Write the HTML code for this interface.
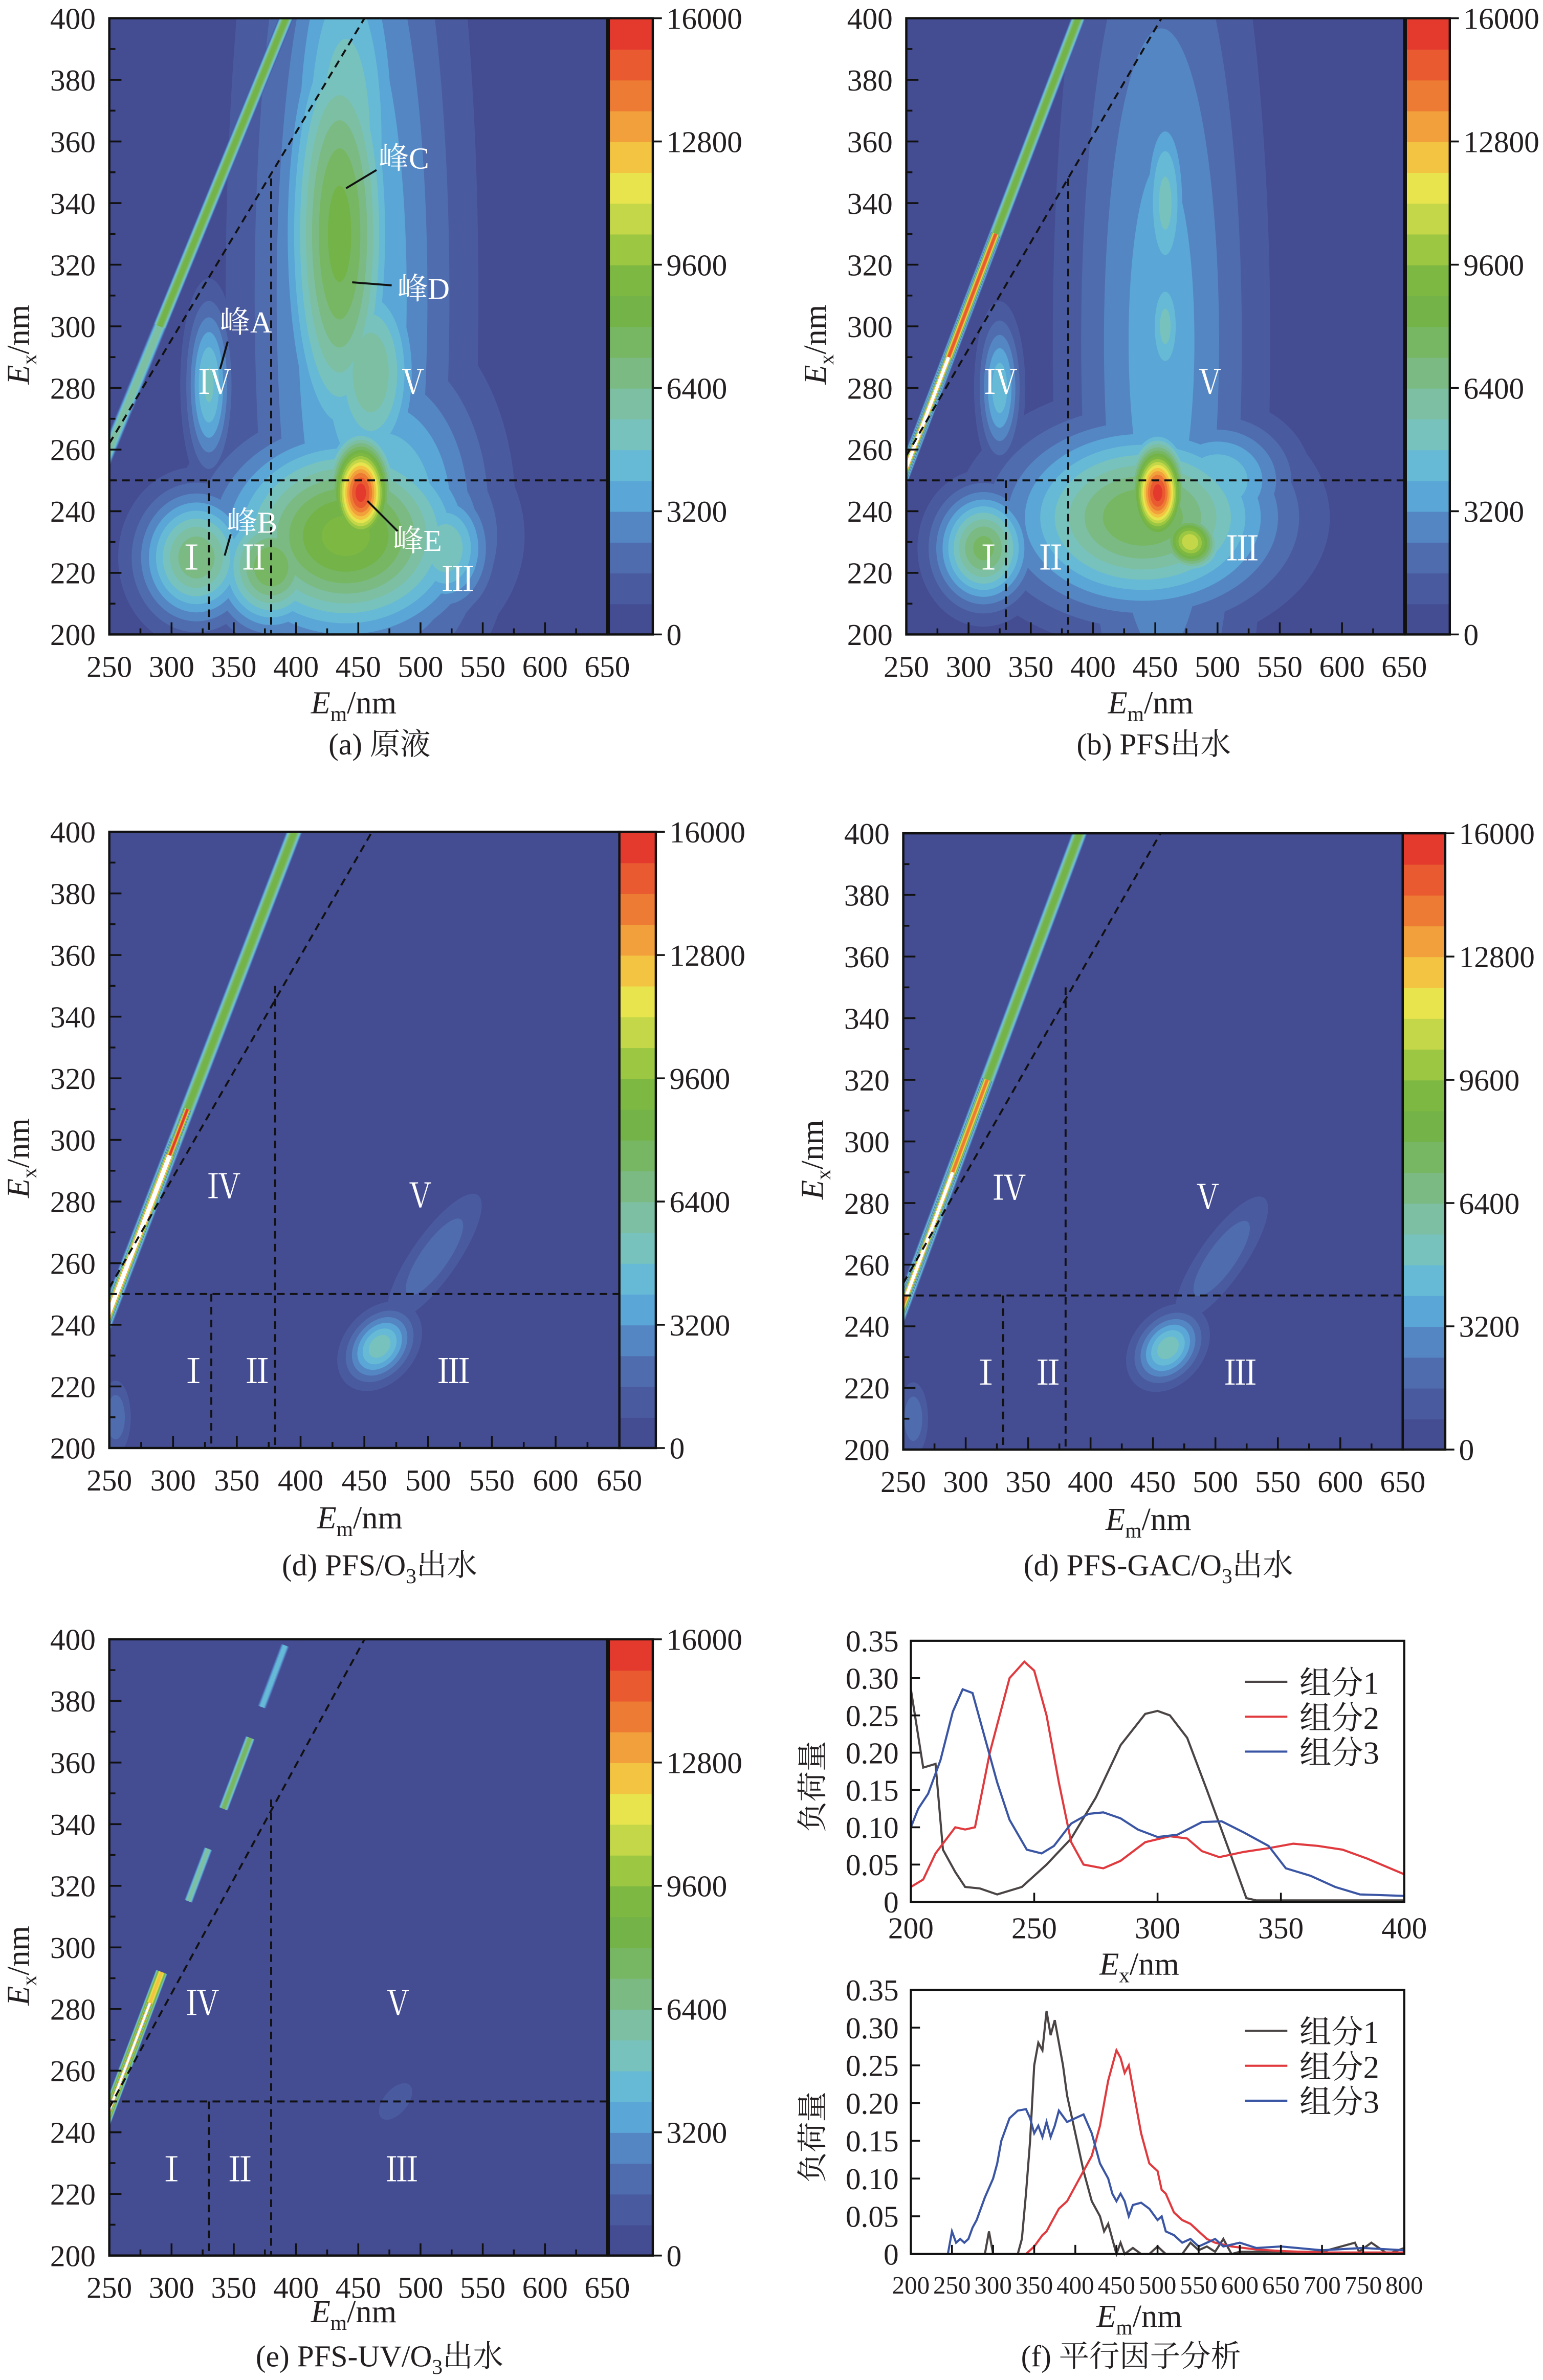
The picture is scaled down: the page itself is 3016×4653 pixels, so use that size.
<!DOCTYPE html>
<html><head><meta charset="utf-8">
<style>
html,body{margin:0;padding:0;background:#fff;}
svg{display:block;}
text{font-family:"Liberation Serif","Noto Serif CJK SC","Noto Sans CJK SC",serif;}
</style></head>
<body>
<svg id="fig" xmlns="http://www.w3.org/2000/svg" width="3016" height="4653" viewBox="0 0 1016.4 1568" preserveAspectRatio="none">
</svg>
<script>
// ---------- data ----------
const colorLevels=['#444c92','#4a5a9f','#4f6cae','#5586c4','#5aa6d6','#66bad5','#78c2bd','#7cbfa3','#7bba82','#77b763','#73b348','#7cb842','#9cc743','#c3d748','#e8e44d','#f3c442','#f1a03b','#ed7b34','#e95a30','#e43a2e','#ffffff'];
const cbTicks=[0,3200,6400,9600,12800,16000];
const emTicks=[250,300,350,400,450,500,550,600,650];
const exTicks=[200,220,240,260,280,300,320,340,360,380,400];
// peaks: [em, ex, sigmaEm(nm), sigmaEx(nm), level(0-20), angle(deg)]
const peaksA=[[445,310,55,120,5.5,0],[470,240,55,35,6.5,0],[440,360,35,60,7,0],[435,330,30,50,10.5,0],[460,285,28,25,8,0],[440,232,65,22,11.5,0],[452,246,17,12,19.6,0],[330,281,12,18,6.3,0],[320,225,30,14,9,0],[380,222,30,14,10,0],[520,228,25,14,7,0]];
const peaksB=[[455,295,50,110,4.6,0],[458,340,14,24,6.4,0],[458,300,12,16,6.4,0],[440,238,70,20,10,0],[452,246,15,11,19.6,0],[478,230,16,7,14,-55],[325,280,11,15,5.8,0],[312,228,25,12,9.5,0],[500,250,40,14,6,0]];
const peaksD=[[462,233,20,6,6.8,-50],[505,262,40,5,3,-55],[255,210,8,8,3,0]];
const peaksD2=[[462,233,20,6,6.8,-50],[505,262,40,5,3,-55],[258,210,8,8,3,0]];
const peaksE=[[480,250,18,4,1.6,-50]];
// Rayleigh scatter band: line endpoints [em0,ex0,em1,ex1]; segments [exStart,exEnd,level,widthNm]
const bandLineA=[252,262,394,402], bandSegA=[[255,300,7.5,11],[300,405,10,11]];
const bandLineB=[248,252,390,402], bandSegB=[[240,405,10,11],[250,330,18,8],[250,290,21,6]];
const bandLineD=[248,242,397,402], bandSegD=[[235,405,10,12],[240,300,21,8],[295,310,19,6]];
const bandLineD2=[248,245,393,402], bandSegD2=[[235,405,10,12],[245,320,17,8],[250,290,21,6]];
const bandLineE=[248,245,395,402], bandSegE=[[240,292,15,10],[245,282,21,4],[315,332,7,7],[345,368,9,8],[378,398,5,7]];
// f chart data
const exAxis=[200,205,210,213,218,222,228,235,245,255,265,275,285,295,300,305,312,320,330,336,340,350,400];
const exC1=[0.285,0.18,0.185,0.07,0.04,0.02,0.018,0.01,0.02,0.05,0.085,0.14,0.21,0.252,0.256,0.25,0.22,0.15,0.06,0.005,0.002,0.002,0.002];
const exAxis2=[200,205,210,218,222,226,232,240,246,250,255,260,265,270,278,285,295,305,312,318,325,335,345,355,365,375,385,400];
const exC2=[0.02,0.03,0.065,0.1,0.097,0.1,0.2,0.3,0.322,0.31,0.25,0.16,0.08,0.05,0.045,0.055,0.08,0.088,0.085,0.068,0.06,0.067,0.072,0.078,0.075,0.07,0.058,0.037];
const exAxis3=[200,203,207,212,217,221,225,230,235,240,247,253,258,265,272,278,285,292,300,308,318,326,335,345,352,362,372,382,400];
const exC3=[0.1,0.125,0.145,0.19,0.255,0.285,0.28,0.22,0.16,0.11,0.07,0.065,0.075,0.105,0.118,0.12,0.112,0.097,0.087,0.09,0.107,0.108,0.093,0.075,0.045,0.035,0.02,0.01,0.008];
const emAxis1=[200,290,295,300,305,330,335,340,345,350,355,360,365,370,375,380,385,390,400,410,420,430,435,440,445,450,455,460,470,480,490,500,510,520,530,540,550,560,570,580,590,600,650,700,740,745,760,780,800];
const emC1=[0,0,0.03,0,0,0,0.02,0.08,0.15,0.25,0.28,0.27,0.322,0.29,0.31,0.28,0.25,0.21,0.16,0.11,0.07,0.05,0.03,0.04,0.02,0,0.015,0,0.008,0,0,0.01,0,0,0,0.015,0.005,0.01,0.003,0.02,0,0.003,0.003,0.003,0.015,0.003,0.015,0,0.008];
const emAxis2=[200,340,350,360,365,370,380,390,400,410,420,430,440,445,450,455,460,465,470,480,490,500,505,510,520,530,540,550,560,570,590,620,650,700,800];
const emC2=[0,0,0.01,0.025,0.03,0.04,0.06,0.07,0.09,0.11,0.13,0.17,0.23,0.25,0.27,0.26,0.24,0.25,0.22,0.16,0.12,0.11,0.085,0.08,0.055,0.045,0.04,0.03,0.02,0.015,0.01,0.006,0.004,0.002,0.002];
const emAxis3=[200,245,250,255,260,265,270,275,280,290,300,305,310,315,320,330,340,345,350,355,360,365,370,375,380,390,400,410,420,425,430,440,445,450,455,460,465,470,480,490,500,505,510,520,530,540,550,560,570,580,600,620,650,700,750,800];
const emC3=[0,0,0.03,0.015,0.02,0.015,0.02,0.035,0.045,0.075,0.1,0.12,0.15,0.165,0.18,0.19,0.192,0.18,0.16,0.17,0.155,0.175,0.155,0.17,0.19,0.175,0.18,0.185,0.16,0.14,0.12,0.1,0.08,0.07,0.08,0.07,0.05,0.065,0.068,0.06,0.045,0.05,0.03,0.025,0.015,0.02,0.01,0.015,0.02,0.01,0.015,0.008,0.01,0.005,0.008,0.005];
const fYTicks=[0,0.05,0.10,0.15,0.20,0.25,0.30,0.35];
const fYLabels=['0','0.05','0.10','0.15','0.20','0.25','0.30','0.35'];
const fExTicks=[200,250,300,350,400];
const fEmTicks=[200,250,300,350,400,450,500,550,600,650,700,750,800];
const legendNames=['组分1','组分2','组分3'];
const seriesColors=['#4a4444','#e03a3e','#3a55a4'];

// ---------- helpers ----------
const NS='http://www.w3.org/2000/svg';
const svg=document.getElementById('fig');
function mk(tag,attrs,parent){const e=document.createElementNS(NS,tag);for(const k in attrs)e.setAttribute(k,attrs[k]);(parent||svg).appendChild(e);return e;}
function txt(x,y,s,size,anchor,parent,fill){const t=mk('text',{x:x,y:y,'font-size':size,'text-anchor':anchor||'middle',fill:fill||'#231f20'},parent);t.textContent=s;return t;}

function eemPanel(id,P,peaks,bandLine,bandSeg,opts){
  const g=mk('g',{});
  
  
  const X=em=>P.x0+(em-250)/400*(P.x1-P.x0);
  const Y=ex=>P.y1-(ex-200)/200*(P.y1-P.y0);
  const kx=(P.x1-P.x0)/400, ky=(P.y1-P.y0)/200;
  const cp=mk('clipPath',{id:'clip-'+id},g);
  mk('rect',{x:P.x0,y:P.y0,width:P.x1-P.x0,height:P.y1-P.y0},cp);
  const area=mk('g',{'clip-path':'url(#clip-'+id+')'},g);
  const bg=mk('rect',{x:P.x0,y:P.y0,width:P.x1-P.x0,height:P.y1-P.y0,fill:colorLevels[0]},area);
  
  
  for(let k=1;k<=20;k++){
    peaks.forEach(p=>{
      if(p[4]>k){
        const f=Math.sqrt(2*Math.log(p[4]/k));
        const e=mk('ellipse',{cx:X(p[0]),cy:Y(p[1]),rx:p[2]*kx*f,ry:p[3]*ky*f,fill:colorLevels[Math.min(k,19)],transform:'rotate('+p[5]+' '+X(p[0])+' '+Y(p[1])+')'},area);
        
        
      }
    });
  }
  const exToEm=ex=>bandLine[0]+(ex-bandLine[1])*(bandLine[2]-bandLine[0])/(bandLine[3]-bandLine[1]);
  bandSeg.forEach(s=>{
    const L=s[2];
    for(let k=1;k<=Math.min(20,Math.ceil(L));k++){
      if(L<=k-0.01&&k>1)break;
      const w=Math.max(0.6,s[3]*kx*Math.sqrt(Math.max(0,1-(k-1)/L)));
      const ln=mk('line',{x1:X(exToEm(s[0])),y1:Y(s[0]),x2:X(exToEm(s[1])),y2:Y(s[1]),stroke:colorLevels[Math.min(k,19)],'stroke-width':w,'stroke-linecap':'butt'},area);
      
      
    }
    if(L>20){const ln=mk('line',{x1:X(exToEm(s[0])),y1:Y(s[0]),x2:X(exToEm(s[1])),y2:Y(s[1]),stroke:'#fff','stroke-width':s[3]*kx*0.45},area);
      
      }
  });
  const dl=opts.diag;
  const dash={stroke:'#111','stroke-width':1.3,'stroke-dasharray':'5,3.5',fill:'none'};
  const lines=[[X(dl[0]),Y(dl[1]),X(dl[2]),Y(dl[3])],[P.x0,Y(250),P.x1,Y(250)],[X(330),Y(250),X(330),P.y1],[X(380),Y(opts.vTop),X(380),P.y1]];
  lines.forEach(l=>{const e=mk('line',Object.assign({x1:l[0],y1:l[1],x2:l[2],y2:l[3]},dash),area);
    
    });
  const rn=[['Ⅰ',opts.rI],['Ⅱ',opts.rII],['Ⅲ',opts.rIII],['Ⅳ',opts.rIV],['Ⅴ',opts.rV]];
  rn.forEach(r=>{const t=txt(X(r[1][0]),Y(r[1][1])+8,r[0],22,'middle',g,'#ffffff');
    
    });
  (opts.peakLabels||[]).forEach(pl=>{
    const t=txt(pl[0],pl[1],pl[2],20,'middle',g,'#ffffff');
    
    
    const l=mk('line',{x1:pl[3],y1:pl[4],x2:pl[5],y2:pl[6],stroke:'#111','stroke-width':1.3},g);
    
    
  });
  const fr=mk('rect',{x:P.x0,y:P.y0,width:P.x1-P.x0,height:P.y1-P.y0,fill:'none',stroke:'#111','stroke-width':1.5},g);
  
  
  for(let em=250;em<=650;em+=25){const big=em%50===0;mk('line',{x1:X(em),y1:P.y1,x2:X(em),y2:P.y1-(big?8:4),stroke:'#111','stroke-width':1.2},g);}
  for(let ex=200;ex<=400;ex+=10){const big=ex%20===0;mk('line',{x1:P.x0,y1:Y(ex),x2:P.x0+(big?8:4),y2:Y(ex),stroke:'#111','stroke-width':1.2},g);}
  emTicks.forEach(v=>{const t=txt(X(v),P.y1+28,String(v),20,'middle',g);
    
    });
  exTicks.forEach(v=>{const t=txt(P.x0-9,Y(v)+7,String(v),20,'end',g);
    
    });
  const xt=mk('text',{x:(P.x0+P.x1)/2-3,y:P.y1+opts.xTitleDy,'font-size':21,'text-anchor':'middle',fill:'#231f20'},g);
  xt.innerHTML='<tspan font-style="italic">E</tspan><tspan font-size="14" dy="5">m</tspan><tspan dy="-5">/nm</tspan>';
  
  
  const yc=(P.y0+P.y1)/2;
  const yt=mk('text',{x:0,y:0,'font-size':21,'text-anchor':'middle',fill:'#231f20',transform:'translate('+(P.x0-53)+','+(yc+12)+') rotate(-90)'},g);
  yt.innerHTML='<tspan font-style="italic">E</tspan><tspan font-size="14" dy="5">x</tspan><tspan dy="-5">/nm</tspan>';
  
  
  const cb=mk('g',{},g);
  
  
  const bh=(P.y1-P.y0)/20;
  for(let i=0;i<20;i++){mk('rect',{x:P.cbx0,y:P.y1-(i+1)*bh,width:P.cbx1-P.cbx0,height:bh+0.4,fill:colorLevels[i]},cb);}
  mk('rect',{x:P.cbx0,y:P.y0,width:P.cbx1-P.cbx0,height:P.y1-P.y0,fill:'none',stroke:'#111','stroke-width':1.5},cb);
  cbTicks.forEach(v=>{const y=P.y1-v/16000*(P.y1-P.y0);
    mk('line',{x1:P.cbx1,y1:y,x2:P.cbx1+6,y2:y,stroke:'#111','stroke-width':1.2},cb);
    const t=txt(P.cbx1+9,y+7,String(v),20,'start',cb);
    
    });
}

const stdR={rI:[316,225],rII:[366,225],rIII:[530,218],rIV:[335,282],rV:[494,282]};
eemPanel('a',{x0:72,x1:400,y0:12,y1:418,cbx0:401,cbx1:430},peaksA,bandLineA,bandSegA,Object.assign({diag:[250,262,455,400],vTop:348,xTitleDy:52,
  peakLabels:[[162,219,'峰A',145,243,150,225],[266,111,'峰C',228,124,248,112],[279,197,'峰D',232,186,258,188],[166,351,'峰B',148,366,152,352],[275,363,'峰E',242,330,262,350]]},stdR));
eemPanel('b',{x0:597,x1:925,y0:12,y1:418,cbx0:926,cbx1:955},peaksB,bandLineB,bandSegB,Object.assign({diag:[250,258,455,400],vTop:348,xTitleDy:52},stdR,{rIII:[520,228],rIV:[326,282]}));
eemPanel('d',{x0:72,x1:408,y0:548,y1:954,cbx0:408,cbx1:432},peaksD,bandLineD,bandSegD,Object.assign({diag:[250,252,456,400],vTop:350,xTitleDy:53},stdR,{rIII:[520,225],rIV:[340,285]}));
eemPanel('d2',{x0:595,x1:924,y0:549,y1:955,cbx0:924,cbx1:952},peaksD2,bandLineD2,bandSegD2,Object.assign({diag:[250,254,456,400],vTop:350,xTitleDy:53},stdR,{rIII:[520,225],rIV:[335,285]}));
eemPanel('e',{x0:72,x1:400,y0:1080,y1:1486,cbx0:401,cbx1:430},peaksE,bandLineE,bandSegE,Object.assign({diag:[250,248,455,400],vTop:348,xTitleDy:44},stdR,{rI:[300,228],rII:[355,228],rIII:[485,228],rIV:[325,282],rV:[482,282]}));

// ---------- f charts ----------
function lineChart(id,P,xMin,xMax,xTicks,xTitleSub,series){
  const g=mk('g',{});
  
  
  const X=v=>P.x0+(v-xMin)/(xMax-xMin)*(P.x1-P.x0);
  const Y=v=>P.y1-v/0.35*(P.y1-P.y0);
  series.forEach((s,i)=>{
    const pts=s[0].map((x,j)=>X(x).toFixed(2)+','+Y(s[1][j]).toFixed(2)).join(' ');
    const pl=mk('polyline',{points:pts,fill:'none',stroke:seriesColors[i],'stroke-width':1.4},g);
    
    
  });
  const fr=mk('rect',{x:P.x0,y:P.y0,width:P.x1-P.x0,height:P.y1-P.y0,fill:'none',stroke:'#111','stroke-width':1.4},g);
  
  
  fYTicks.forEach((v,i)=>{mk('line',{x1:P.x0,y1:Y(v),x2:P.x0+6,y2:Y(v),stroke:'#111','stroke-width':1.2},g);
    const t=txt(P.x0-8,Y(v)+7,fYLabels[i],20,'end',g);
    
    });
  xTicks.forEach(v=>{mk('line',{x1:X(v),y1:P.y1,x2:X(v),y2:P.y1-6,stroke:'#111','stroke-width':1.2},g);
    const t=txt(X(v),P.y1+P.tickDy,String(v),P.tickSize,'middle',g);
    
    });
  const xt=mk('text',{x:(P.x0+P.x1)/2-12,y:P.y1+P.titleDy,'font-size':21,'text-anchor':'middle',fill:'#231f20'},g);
  xt.innerHTML='<tspan font-style="italic">E</tspan><tspan font-size="14" dy="5">'+xTitleSub+'</tspan><tspan dy="-5">/nm</tspan>';
  
  
  const yt=mk('text',{x:0,y:0,'font-size':20,'text-anchor':'middle',fill:'#231f20',transform:'translate(542,'+((P.y0+P.y1)/2+10)+') rotate(-90)'},g);
  yt.textContent='负荷量';
  
  
  legendNames.forEach((n,i)=>{const y=P.y0+27+i*23;
    const lg=mk('g',{},g);
    
    
    mk('line',{x1:820,y1:y,x2:848,y2:y,stroke:seriesColors[i],'stroke-width':1.4},lg);
    txt(856,y+8,n,21,'start',lg);});
}
lineChart('f-excitation-chart',{x0:600,x1:925,y0:1081,y1:1253,tickDy:24,tickSize:20,titleDy:48},200,400,fExTicks,'x',[[exAxis,exC1],[exAxis2,exC2],[exAxis3,exC3]]);
lineChart('f-emission-chart',{x0:600,x1:925,y0:1311,y1:1485,tickDy:26,tickSize:16.5,titleDy:48},200,800,fEmTicks,'m',[[emAxis1,emC1],[emAxis2,emC2],[emAxis3,emC3]]);

const caps=[[250,497,'(a) 原液'],[760,497,'(b) PFS出水'],[250,1038,'(d) PFS/O<tspan font-size="14" dy="5">3</tspan><tspan dy="-5">出水</tspan>'],[763,1038,'(d) PFS-GAC/O<tspan font-size="14" dy="5">3</tspan><tspan dy="-5">出水</tspan>'],[250,1559,'(e) PFS-UV/O<tspan font-size="14" dy="5">3</tspan><tspan dy="-5">出水</tspan>'],[745,1559,'(f) 平行因子分析']];
caps.forEach(c=>{const t=mk('text',{x:c[0],y:c[1],'font-size':20,'text-anchor':'middle',fill:'#231f20'});t.innerHTML=c[2];
  
  });
</script>
</body></html>
